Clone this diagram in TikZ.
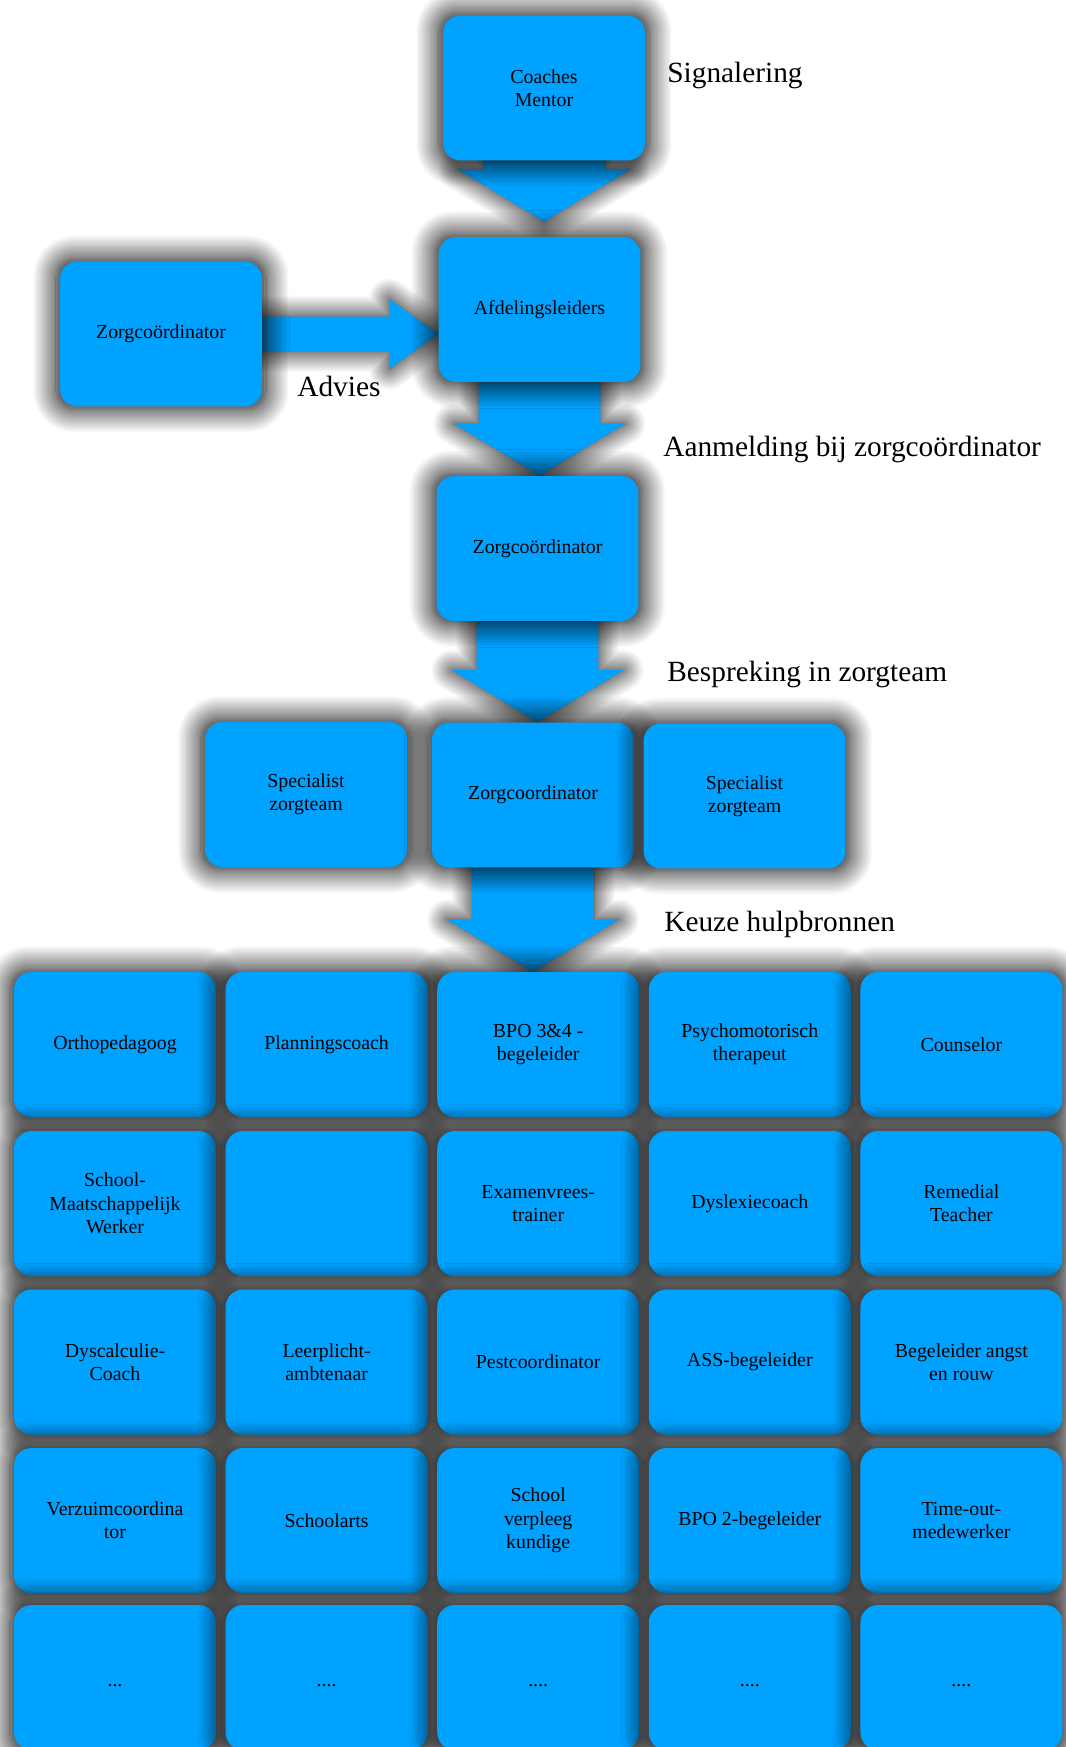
\documentclass[tikz,border=0pt]{standalone}
\usepackage{fontspec}
\setmainfont{Liberation Serif}
\usetikzlibrary{shadows.blur,backgrounds,calc}
\definecolor{zorgblauw}{RGB}{0,162,255}
\tikzset{
	gloed/.style={blur shadow={shadow xshift=0pt, shadow yshift=0pt, shadow scale=1.04, shadow blur radius=0.45cm, shadow blur steps=20, shadow opacity=100}},
	zbox/.style={gloed, fill=zorgblauw, rounded corners=0.35cm, minimum width=4.04cm, minimum height=2.9cm, align=center, font=\fontsize{11.3}{13.3}\selectfont},
	zpijl/.style={blur shadow={shadow xshift=0pt, shadow yshift=0pt, shadow blur radius=0.42cm, shadow blur steps=20, shadow opacity=100}, fill=zorgblauw},
	fase/.style={anchor=base west, inner sep=0pt, font=\fontsize{16.7}{20}\selectfont}
}
%Pijl naar beneden
\newcommand{\pijlomlaag}[3][0cm]{%
	\path[zpijl] let \p1=(#2.south), \p2=(#3.north) in
	(\x1-1.22cm,\y1) -- (\x1+1.22cm,\y1) -- (\x1+1.22cm,\y2+1.04cm+#1) -- (\x1+1.71cm,\y2+1.04cm+#1)
	-- (\x1,\y2+#1) -- (\x1-1.71cm,\y2+1.04cm+#1) -- (\x1-1.22cm,\y2+1.04cm+#1) -- cycle;}
\begin{document}
\begin{tikzpicture}[x=0.02cm, y=-0.02cm]
	\useasboundingbox (0,0) rectangle (1065,1747);
	
	%Bovenste blokken
	\node[zbox] (coach) at (544,88) {Coaches\\Mentor};
	\node[zbox] (afd) at (539.5,309.5) {Afdelingsleiders};
	\node[zbox] (advzorg) at (161,334) {Zorgcoördinator};
	\node[zbox] (zorg) at (537.5,548.5) {Zorgcoördinator};
	\node[zbox] (spec1) at (306,794.5) {Specialist\\zorgteam};
	\node[zbox] (zteam) at (533,795) {Zorgcoordinator};
	\node[zbox] (spec2) at (744.5,796) {Specialist\\zorgteam};
	
	%Fasen
	\node[fase] (signaal) at (667,83) {Signalering};
	\node[fase] (advies) at (297,396) {Advies};
	\node[fase] (aanmeld) at (663,456) {Aanmelding bij zorgcoördinator};
	\node[fase] (bespreek) at (667,681) {Bespreking in zorgteam};
	\node[fase] (keuze) at (664,931) {Keuze hulpbronnen};
	
	%Hulpbronnen
	\foreach \t [count=\c] in {Orthopedagoog, Planningscoach, {BPO 3\&4 -\\begeleider}, {Psychomotorisch\\therapeut}, Counselor}
		\node[zbox] (r1k\c) at ({115+211.6*(\c-1)},1044.5) {\t};
	\foreach \t [count=\c] in {{School-\\Maatschappelijk\\Werker}, {}, {Examenvrees-\\trainer}, Dyslexiecoach, {Remedial\\Teacher}}
		\node[zbox] (r2k\c) at ({115+211.6*(\c-1)},1203.5) {\t};
	\foreach \t [count=\c] in {{Dyscalculie-\\Coach}, {Leerplicht-\\ambtenaar}, Pestcoordinator, ASS-begeleider, {Begeleider angst\\en rouw}}
		\node[zbox] (r3k\c) at ({115+211.6*(\c-1)},1362) {\t};
	\foreach \t [count=\c] in {{Verzuimcoordina\\tor}, Schoolarts, {School\\verpleeg\\kundige}, BPO 2-begeleider, {Time-out-\\medewerker}}
		\node[zbox] (r4k\c) at ({115+211.6*(\c-1)},1520.5) {\t};
	\foreach \c in {1,2,3,4,5}
		\node[zbox, text height=0.36cm] (r5k\c) at ({115+211.6*(\c-1)},1677.5) {\ifnum\c=1 ...\else ....\fi};
	
	%Pijlen
	\begin{scope}[on background layer]
		\pijlomlaag[0.3cm]{coach}{afd}
		\pijlomlaag{afd}{zorg}
		\pijlomlaag{zorg}{zteam}
		\pijlomlaag{zteam}{r1k3}
		\path[zpijl] let \p1=(advzorg.east), \p2=(afd.west) in
		(\x1,\y1-0.35cm) -- (\x2-0.98cm,\y1-0.35cm) -- (\x2-0.98cm,\y1-0.7cm) -- (\x2,\y1)
		-- (\x2-0.98cm,\y1+0.7cm) -- (\x2-0.98cm,\y1+0.35cm) -- (\x1,\y1+0.35cm) -- cycle;
	\end{scope}
	
\end{tikzpicture}
\end{document}
